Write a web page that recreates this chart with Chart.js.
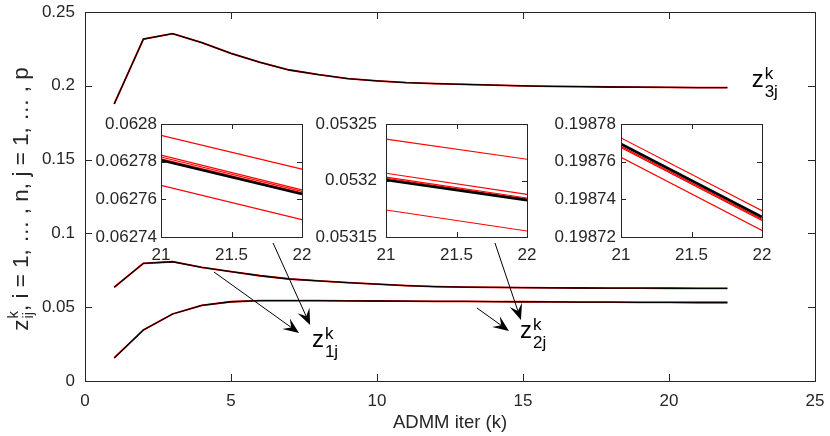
<!DOCTYPE html>
<html>
<head>
<meta charset="utf-8">
<script src="https://cdn.jsdelivr.net/npm/chart.js@4.4.1/dist/chart.umd.min.js"></script>
<style>
  html, body { margin: 0; padding: 0; background: #fff; }
  #wrap { position: relative; width: 830px; height: 436px; }
  canvas { position: absolute; }
</style>
</head>
<body>
<div id="wrap">
  <canvas id="main" width="830" height="436" style="left:0;top:0"></canvas>
  <canvas id="inset1"></canvas>
  <canvas id="inset2"></canvas>
  <canvas id="inset3"></canvas>
</div>
<script>
// main axes data
const iters = [1, 2, 3, 4, 5, 6, 7, 8, 9, 10, 11, 12, 13, 14, 15, 16, 17, 18, 19, 20, 21, 22];
const z1Values = [0.0635, 0.0797, 0.0808, 0.0770, 0.0741, 0.0713, 0.0691, 0.0678, 0.0667, 0.0656, 0.0646,
                  0.0640, 0.0636, 0.0634, 0.0632, 0.0631, 0.0630, 0.06295, 0.0629, 0.06285, 0.06281, 0.06276];
const z2Values = [0.0156, 0.0346, 0.0454, 0.0513, 0.0537, 0.0544, 0.0545, 0.0544, 0.0543, 0.0542, 0.0541,
                  0.0540, 0.0539, 0.0538, 0.0537, 0.0536, 0.0535, 0.0534, 0.0533, 0.05325, 0.0532, 0.05318];
const z3Values = [0.1877, 0.2317, 0.2353, 0.2292, 0.2220, 0.2159, 0.2107, 0.2075, 0.2048, 0.2033, 0.2021,
                  0.2015, 0.2009, 0.2004, 0.2000, 0.19965, 0.1994, 0.1992, 0.19905, 0.19893, 0.19877, 0.19873];
const xTicks = [0, 5, 10, 15, 20, 25];
const xTickLabels = ['0', '5', '10', '15', '20', '25'];
const yTicks = [0, 0.05, 0.1, 0.15, 0.2, 0.25];
const yTickLabels = ['0', '0.05', '0.1', '0.15', '0.2', '0.25'];

// zoomed insets (iterations 21..22)
const insetX = [21, 22];
const insetXTicks = [21, 21.5, 22];
const insetXLabels = ['21', '21.5', '22'];

const inset1Red = [
  [0.062794, 0.062776],
  [0.0627835, 0.062765],
  [0.0627825, 0.0627642],
  [0.0627815, 0.0627634],
  [0.0627674, 0.0627492]
];
const inset1Black = [0.0627808, 0.0627628];
const inset1YTicks = [0.06274, 0.06276, 0.06278, 0.0628];
const inset1YLabels = ['0.06274', '0.06276', '0.06278', '0.0628'];

const inset2Red = [
  [0.0532367, 0.0532188],
  [0.0532064, 0.0531878],
  [0.053203, 0.0531845],
  [0.053202, 0.0531835],
  [0.0531739, 0.0531553]
];
const inset2Black = [0.0532005, 0.0531826];
const inset2YTicks = [0.05315, 0.0532, 0.05325];
const inset2YLabels = ['0.05315', '0.0532', '0.05325'];

const inset3Red = [
  [0.1987726, 0.198734],
  [0.1987682, 0.1987295],
  [0.1987675, 0.1987288],
  [0.1987623, 0.1987235]
];
const inset3Black = [0.1987694, 0.1987306];
const inset3YTicks = [0.19872, 0.19874, 0.19876, 0.19878];
const inset3YLabels = ['0.19872', '0.19874', '0.19876', '0.19878'];

// annotations, in main-axes data units
const arrows = [
  { from: [4.42, 0.0738], to: [7.33, 0.0325] },
  { from: [6.44, 0.0935], to: [7.71, 0.0379] },
  { from: [14.04, 0.0935], to: [14.93, 0.0413] },
  { from: [13.42, 0.0495], to: [14.52, 0.0339] }
];
const curveLabels = [
  { x: 7.77, y: 0.0230, sup: 'k', sub: '1j' },
  { x: 14.90, y: 0.0292, sup: 'k', sub: '2j' },
  { x: 22.83, y: 0.1992, sup: 'k', sub: '3j' }
];

const FONT = "'Liberation Sans', Arial, Helvetica, sans-serif";
const AXIS = '#262626';
Chart.defaults.font.family = FONT;
Chart.defaults.color = AXIS;

function pairs(xs, ys) {
  return xs.map((x, i) => ({ x: x, y: ys[i] }));
}

function line(ctx, x1, y1, x2, y2) {
  ctx.beginPath();
  ctx.moveTo(x1, y1);
  ctx.lineTo(x2, y2);
  ctx.stroke();
}

// z with stacked super/subscript, returns the width used
function drawZ(ctx, x, y, sup, sub, big, small, rise, drop) {
  ctx.font = big + 'px ' + FONT;
  ctx.fillText('z', x, y);
  const w = ctx.measureText('z').width;
  ctx.font = small + 'px ' + FONT;
  ctx.fillText(sup, x + w + 1, y - rise);
  ctx.fillText(sub, x + w + 1, y + drop);
  return w + 1 + Math.max(ctx.measureText(sup).width, ctx.measureText(sub).width);
}

// MATLAB-like box with inward ticks
const boxTicks = {
  id: 'boxTicks',
  afterDatasetsDraw(chart, args, opts) {
    const { ctx, chartArea: a } = chart;
    const xs = chart.scales.x, ys = chart.scales.y;
    ctx.save();
    ctx.strokeStyle = AXIS;
    ctx.lineWidth = 1;
    ctx.strokeRect(Math.round(a.left) + 0.5, Math.round(a.top) + 0.5,
                   Math.round(a.width), Math.round(a.height));
    xs.ticks.forEach(t => {
      const p = Math.round(xs.getPixelForValue(t.value)) + 0.5;
      line(ctx, p, a.bottom, p, a.bottom - opts.len);
      line(ctx, p, a.top, p, a.top + opts.len);
    });
    ys.ticks.forEach(t => {
      const p = Math.round(ys.getPixelForValue(t.value)) + 0.5;
      line(ctx, a.left, p, a.left + opts.len, p);
      line(ctx, a.right, p, a.right - opts.len, p);
    });
    ctx.restore();
  }
};

// arrows, curve labels and the y-axis title of the main axes
const annotations = {
  id: 'annotations',
  afterDraw(chart) {
    const { ctx, chartArea: a } = chart;
    const xs = chart.scales.x, ys = chart.scales.y;
    ctx.save();
    ctx.fillStyle = '#000';
    ctx.strokeStyle = '#000';
    ctx.lineWidth = 1;
    arrows.forEach(ar => {
      const x1 = xs.getPixelForValue(ar.from[0]), y1 = ys.getPixelForValue(ar.from[1]);
      const x2 = xs.getPixelForValue(ar.to[0]), y2 = ys.getPixelForValue(ar.to[1]);
      const len = Math.hypot(x2 - x1, y2 - y1);
      const ux = (x2 - x1) / len, uy = (y2 - y1) / len;
      const nx = -uy, ny = ux;
      const L = 16, W = 13;
      line(ctx, x1, y1, x2 - ux * L * 0.6, y2 - uy * L * 0.6);
      ctx.beginPath();
      ctx.moveTo(x2, y2);
      ctx.lineTo(x2 - ux * L + nx * W / 2, y2 - uy * L + ny * W / 2);
      ctx.lineTo(x2 - ux * L * 0.6, y2 - uy * L * 0.6);
      ctx.lineTo(x2 - ux * L - nx * W / 2, y2 - uy * L - ny * W / 2);
      ctx.closePath();
      ctx.fill();
    });

    ctx.fillStyle = '#000';
    ctx.textAlign = 'left';
    ctx.textBaseline = 'alphabetic';
    curveLabels.forEach(lb => {
      drawZ(ctx, xs.getPixelForValue(lb.x), ys.getPixelForValue(lb.y), lb.sup, lb.sub, 24, 17, 8, 10);
    });

    // y axis title, rotated
    ctx.fillStyle = AXIS;
    const rest = ', i = 1, \u2026 , n, j = 1, \u2026 , p';
    ctx.font = '22.5px ' + FONT;
    const zW = ctx.measureText('z').width;
    const rW = ctx.measureText(rest).width;
    ctx.font = '15px ' + FONT;
    const sW = Math.max(ctx.measureText('k').width, ctx.measureText('ij').width) + 1;
    const total = zW + sW + rW;
    ctx.translate(28, (a.top + a.bottom) / 2 + 2.5);
    ctx.rotate(-Math.PI / 2);
    const x0 = -total / 2;
    drawZ(ctx, x0, 0, 'k', 'ij', 22.5, 15, 10, 5);
    ctx.font = '22.5px ' + FONT;
    ctx.fillText(rest, x0 + zW + sW, 0);
    ctx.restore();
  }
};

function tickSetter(values) {
  return s => { s.ticks = values.map(v => ({ value: v })); };
}

// keep the plot box where it is: drop the label overhang padding Chart.js adds
function fixSize(prop, size) {
  return s => {
    s[prop] = size;
    s.paddingTop = 0; s.paddingBottom = 0; s.paddingLeft = 0; s.paddingRight = 0;
  };
}

// Chart.js paints dataset 0 last, so the black curves come first
new Chart(document.getElementById('main'), {
  type: 'line',
  data: {
    datasets: [
      { data: pairs(iters, z3Values), borderColor: '#000', borderWidth: 1.3 },
      { data: pairs(iters, z1Values), borderColor: '#000', borderWidth: 1.3 },
      { data: pairs(iters, z2Values), borderColor: '#000', borderWidth: 1.3 },
      { data: pairs(iters, z3Values), borderColor: '#ff0000', borderWidth: 1.8 },
      { data: pairs(iters, z1Values), borderColor: '#ff0000', borderWidth: 1.8 },
      { data: pairs(iters, z2Values), borderColor: '#ff0000', borderWidth: 1.8 }
    ]
  },
  options: {
    responsive: false,
    animation: false,
    elements: { point: { radius: 0 }, line: { tension: 0 } },
    layout: { padding: { top: 12, right: 15, left: 0, bottom: 0 } },
    plugins: { legend: { display: false }, tooltip: { enabled: false }, boxTicks: { len: 7 } },
    scales: {
      x: {
        type: 'linear', min: 0, max: 25,
        grid: { display: false, drawTicks: false }, border: { display: false },
        afterBuildTicks: tickSetter(xTicks),
        afterFit: fixSize('height', 55),
        ticks: { padding: 10, font: { size: 17 }, maxRotation: 0, autoSkip: false,
                 callback: (v, i) => xTickLabels[i] },
        title: { display: true, text: 'ADMM iter (k)', font: { size: 18.5 }, padding: { top: 0, bottom: 2 } }
      },
      y: {
        type: 'linear', min: 0, max: 0.25,
        grid: { display: false, drawTicks: false }, border: { display: false },
        afterBuildTicks: tickSetter(yTicks),
        afterFit: fixSize('width', 85),
        ticks: { padding: 10, font: { size: 17 }, autoSkip: false,
                 callback: (v, i) => yTickLabels[i] }
      }
    }
  },
  plugins: [boxTicks, annotations]
});

// inset placement: plot-area box in page pixels
const insetLayout = [
  { id: 'inset1', left: 161, top: 124, w: 141, h: 113, labelPad: 4 },
  { id: 'inset2', left: 386, top: 124, w: 141, h: 113, labelPad: 9 },
  { id: 'inset3', left: 621, top: 124, w: 141, h: 113, labelPad: 5 }
];

const whiteArea = {
  id: 'whiteArea',
  beforeDatasetsDraw(chart) {
    const { ctx, chartArea: a } = chart;
    ctx.save();
    ctx.fillStyle = '#fff';
    ctx.fillRect(a.left, a.top, a.width, a.height);
    ctx.restore();
  }
};

function makeInset(box, redSets, blackSet, yTickVals, yLabels) {
  const gutterL = 85, gutterT = 12, gutterR = 14, gutterB = 32;
  const cv = document.getElementById(box.id);
  cv.width = gutterL + box.w + gutterR;
  cv.height = gutterT + box.h + gutterB;
  cv.style.left = (box.left - gutterL) + 'px';
  cv.style.top = (box.top - gutterT) + 'px';
  // black first so it is painted on top of the red lines
  const datasets = [{ data: pairs(insetX, blackSet), borderColor: '#000', borderWidth: 2.6 }];
  redSets.forEach(r => datasets.push({ data: pairs(insetX, r), borderColor: '#ff0000', borderWidth: 1.2 }));
  new Chart(cv, {
    type: 'line',
    data: { datasets: datasets },
    options: {
      responsive: false,
      animation: false,
      elements: { point: { radius: 0 }, line: { tension: 0 } },
      layout: { padding: { top: gutterT, right: gutterR, left: 0, bottom: 0 } },
      plugins: { legend: { display: false }, tooltip: { enabled: false }, boxTicks: { len: 5 } },
      scales: {
        x: {
          type: 'linear', min: 21, max: 22,
          grid: { display: false, drawTicks: false }, border: { display: false },
          afterBuildTicks: tickSetter(insetXTicks),
          afterFit: fixSize('height', gutterB),
          ticks: { padding: 8, font: { size: 17 }, maxRotation: 0, autoSkip: false,
                   callback: (v, i) => insetXLabels[i] }
        },
        y: {
          type: 'linear', min: yTickVals[0], max: yTickVals[yTickVals.length - 1],
          grid: { display: false, drawTicks: false }, border: { display: false },
          afterBuildTicks: tickSetter(yTickVals),
          afterFit: fixSize('width', gutterL),
          ticks: { padding: box.labelPad, font: { size: 17 }, autoSkip: false,
                   callback: (v, i) => yLabels[i] }
        }
      }
    },
    plugins: [whiteArea, boxTicks]
  });
}

makeInset(insetLayout[0], inset1Red, inset1Black, inset1YTicks, inset1YLabels);
makeInset(insetLayout[1], inset2Red, inset2Black, inset2YTicks, inset2YLabels);
makeInset(insetLayout[2], inset3Red, inset3Black, inset3YTicks, inset3YLabels);
</script>
</body>
</html>
